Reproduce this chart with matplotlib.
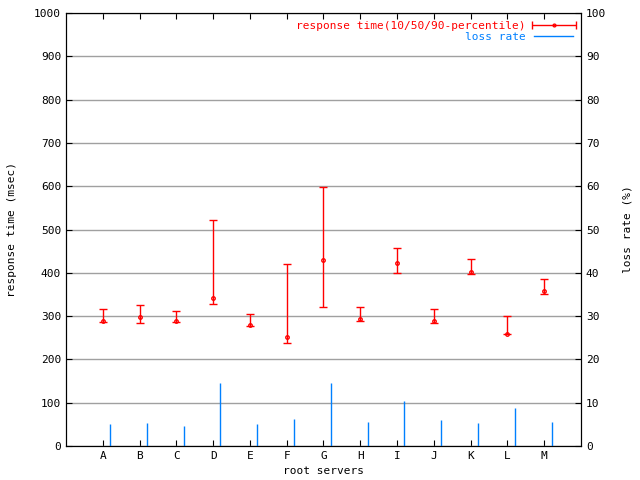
import matplotlib
matplotlib.use('Agg')
import matplotlib.pyplot as plt
from matplotlib.container import ErrorbarContainer
from matplotlib.legend_handler import HandlerErrorbar
import numpy as np

servers = ['A', 'B', 'C', 'D', 'E', 'F', 'G', 'H', 'I', 'J', 'K', 'L', 'M']
rt_low = [287, 283, 286, 328, 277, 237, 320, 289, 399, 285, 397, 258, 350]
rt_median = [289, 297, 288, 341, 280, 251, 430, 293, 422, 288, 403, 259, 357]
rt_high = [316, 325, 311, 521, 304, 420, 598, 320, 457, 316, 431, 300, 385]
loss_rate = [5.1, 5.3, 4.6, 14.5, 5.1, 6.2, 14.5, 5.5, 10.4, 6.0, 5.3, 8.8, 5.5]

plt.rcParams['font.family'] = 'DejaVu Sans Mono'
plt.rcParams['font.size'] = 8

fig = plt.figure(figsize=(6.4, 4.8), dpi=100)
ax = fig.add_axes([0.1031, 0.0708, 0.8047, 0.9021])
ax2 = ax.twinx()

x = np.arange(1, len(servers) + 1)
med = np.array(rt_median)
yerr = [med - np.array(rt_low), np.array(rt_high) - med]

ax.errorbar(x, med, yerr=yerr, fmt='o', color='red', ms=2.5, mfc='none',
            mew=1, capsize=3, elinewidth=1, capthick=1)
ax2.vlines(x + 0.2, 0, loss_rate, color='#0080ff', lw=1)

# legend samples (horizontal error bar like gnuplot)
eb_key = ax.errorbar([np.nan], [np.nan], xerr=[1], fmt='o', color='red', ms=2,
                     mfc='none', mew=1, capsize=3, elinewidth=1, capthick=1)
ln, = ax2.plot([], [], color='#0080ff', lw=1)

ax.set_xlim(0, 14)
ax.set_ylim(0, 1000)
ax2.set_ylim(0, 100)
ax.set_xticks(x)
ax.set_xticklabels(servers)
ax.set_yticks(np.arange(0, 1001, 100))
ax2.set_yticks(np.arange(0, 101, 10))
ax.yaxis.grid(True, color='#a0a0a0', lw=1)
ax.set_axisbelow(True)

ax.tick_params(axis='x', direction='in', top=True, length=4)
ax.tick_params(axis='y', direction='in', length=4)
ax2.tick_params(axis='y', direction='in', length=4)

ax.set_xlabel('root servers')
ax.set_ylabel('response time (msec)', labelpad=12)
ax2.set_ylabel('loss rate (%)', labelpad=12)

leg = ax2.legend([eb_key, ln], ['response time(10/50/90-percentile)', 'loss rate'],
                 loc='upper right', frameon=False, markerfirst=False,
                 handlelength=3.5, borderaxespad=0.3, labelspacing=0.1,
                 labelcolor=['red', '#0080ff'],
                 handler_map={ErrorbarContainer: HandlerErrorbar(xerr_size=2.0)})

fig.savefig('out.png', dpi=100)
